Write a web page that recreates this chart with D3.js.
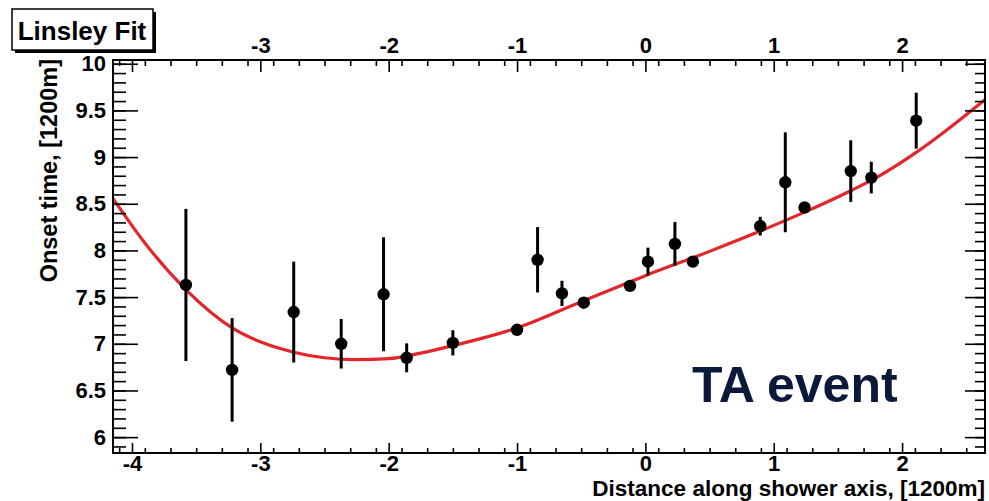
<!DOCTYPE html>
<html>
<head>
<meta charset="utf-8">
<script src="https://cdn.jsdelivr.net/npm/d3@7"></script>
<style>
body { margin:0; background:#fff; }
text { font-family:"Liberation Sans", Arial, sans-serif; font-weight:bold; }
</style>
</head>
<body>
<script>
// DATA

var point_x   = [-3.58,-3.22,-2.74,-2.37,-2.04,-1.86,-1.50,-1.00,-0.84,-0.65,-0.48,-0.12, 0.02, 0.23, 0.37, 0.895, 1.09, 1.24, 1.60, 1.76, 2.11];
var point_y   = [ 7.63, 6.72, 7.34, 7.00, 7.53, 6.85, 7.01, 7.15, 7.90, 7.54, 7.44, 7.62, 7.88, 8.07, 7.88, 8.26, 8.73, 8.46, 8.85, 8.78, 9.39];
var point_err = [ 0.815,0.555,0.54, 0.265,0.61, 0.155,0.135,0.04, 0.35, 0.135,0.04, 0.04, 0.15, 0.235,0.04, 0.10, 0.535,0.04, 0.33, 0.17, 0.30];

// linsley fit curve
var fit_x = [-4.15,-3.90,-3.58,-3.22,-2.98,-2.74,-2.50,-2.25,-2.00,-1.75,-1.50,-1.00,-0.50, 0.00, 0.50, 0.90, 1.24, 1.60, 1.76, 2.11, 2.30, 2.65];
var fit_y = [ 8.56, 8.08, 7.58, 7.17, 7.01, 6.91, 6.85, 6.83, 6.84, 6.90, 6.98, 7.17, 7.45, 7.73, 7.99, 8.21, 8.41, 8.64, 8.75, 9.05, 9.24, 9.62];

var x_major = [-4,-3,-2,-1,0,1,2];
var x_top_labels = [-3,-2,-1,0,1,2];
var y_major = [6,6.5,7,7.5,8,8.5,9,9.5,10];

var x_domain = [-4.148, 2.646];
var y_domain = [5.83, 10.04];

var title_text = "Linsley Fit";
var x_title = "Distance along shower axis, [1200m]";
var y_title = "Onset time, [1200m]";
var note_text = "TA event";

// FRAME SETUP

var width = 989, height = 501;
var frame = {"left":113, "right":985, "top":60, "bottom":453};

var svg = d3.select("body")
			.append("svg")
			.attr("width", width)
			.attr("height", height);

var x = d3.scaleLinear().domain(x_domain).range([frame.left, frame.right]);
var y = d3.scaleLinear().domain(y_domain).range([frame.bottom, frame.top]);

var x_minor = d3.range(-41, 27, 2).map(function(d){return d/10}).filter(function(d){return d>=x_domain[0] && d<=x_domain[1]});
var y_minor = d3.range(59, 101, 1).map(function(d){return d/10}).filter(function(d){return d>=y_domain[0] && d<=y_domain[1]});

svg.append("defs").append("clipPath")
	.attr("id","frame_clip")
	.append("rect")
	.attr("x",frame.left).attr("y",frame.top)
	.attr("width",frame.right-frame.left).attr("height",frame.bottom-frame.top);

// FIT CURVE
var fit_data = fit_x.map(function(d,i){return {"x":d,"y":fit_y[i]}});

svg.append("path")
	.datum(fit_data)
	.attr("clip-path","url(#frame_clip)")
	.attr("fill","none")
	.attr("stroke","#e3262a")
	.attr("stroke-width",3.2)
	.attr("d", d3.line()
				.x(function(d){return x(d.x)})
				.y(function(d){return y(d.y)})
				.curve(d3.curveMonotoneX));

// POINTS WITH ERROR BARS
var points = point_x.map(function(d,i){return {"x":d,"y":point_y[i],"e":point_err[i]}});

svg.selectAll("line.err")
	.data(points)
	.enter()
	.append("line")
	.attr("class","err")
	.attr("x1",function(d){return x(d.x)})
	.attr("x2",function(d){return x(d.x)})
	.attr("y1",function(d){return y(d.y-d.e)})
	.attr("y2",function(d){return y(d.y+d.e)})
	.attr("stroke","#000")
	.attr("stroke-width",3);

svg.selectAll("circle.pt")
	.data(points)
	.enter()
	.append("circle")
	.attr("class","pt")
	.attr("cx",function(d){return x(d.x)})
	.attr("cy",function(d){return y(d.y)})
	.attr("r",6.2)
	.attr("fill","#000");

// AXES
var style_axis = function(g, font_size)
{
	g.select(".domain").remove();
	g.selectAll(".tick line").attr("stroke","#000").attr("stroke-width",1.6);
	g.selectAll(".tick text").attr("font-size",font_size).attr("fill","#000")
		.style("font-family","'Liberation Sans', Arial, sans-serif").style("font-weight","bold");
}

var fmt = function(d){return String(d)};

// bottom
svg.append("g").attr("transform","translate(0,"+frame.bottom+")")
	.call(d3.axisBottom(x).tickValues(x_minor).tickSize(-5).tickFormat(""))
	.call(style_axis, 22);
svg.append("g").attr("transform","translate(0,"+frame.bottom+")")
	.call(d3.axisBottom(x).tickValues(x_major).tickSize(-10).tickPadding(2).tickFormat(fmt))
	.call(style_axis, 22);

// top
svg.append("g").attr("transform","translate(0,"+frame.top+")")
	.call(d3.axisTop(x).tickValues(x_minor).tickSize(-6).tickFormat(""))
	.call(style_axis, 22);
svg.append("g").attr("transform","translate(0,"+frame.top+")")
	.call(d3.axisTop(x).tickValues(x_major).tickSize(-12).tickFormat(""))
	.call(style_axis, 22);
svg.append("g").attr("transform","translate(0,"+frame.top+")")
	.call(d3.axisTop(x).tickValues(x_top_labels).tickSize(0).tickPadding(7).tickFormat(fmt))
	.call(style_axis, 22);

// left
svg.append("g").attr("transform","translate("+frame.left+",0)")
	.call(d3.axisLeft(y).tickValues(y_minor).tickSize(-13).tickFormat(""))
	.call(style_axis, 22);
svg.append("g").attr("transform","translate("+frame.left+",0)")
	.call(d3.axisLeft(y).tickValues(y_major).tickSize(-25).tickPadding(7).tickFormat(fmt))
	.call(style_axis, 22);

// right
svg.append("g").attr("transform","translate("+frame.right+",0)")
	.call(d3.axisRight(y).tickValues(y_minor).tickSize(-10).tickFormat(""))
	.call(style_axis, 22);
svg.append("g").attr("transform","translate("+frame.right+",0)")
	.call(d3.axisRight(y).tickValues(y_major).tickSize(-20).tickFormat(""))
	.call(style_axis, 22);

// frame border
svg.append("rect")
	.attr("x",frame.left).attr("y",frame.top)
	.attr("width",frame.right-frame.left).attr("height",frame.bottom-frame.top)
	.attr("fill","none")
	.attr("stroke","#000")
	.attr("stroke-width",2);

// AXIS TITLES
svg.append("text")
	.attr("transform","translate(57,"+(frame.top-1)+") rotate(-90)")
	.attr("text-anchor","end")
	.attr("font-size",23.5)
	.text(y_title);

svg.append("text")
	.attr("x",frame.right)
	.attr("y",496)
	.attr("text-anchor","end")
	.attr("font-size",22.5)
	.text(x_title);

// TITLE BOX (with the little shadow)
svg.append("rect").attr("x",15).attr("y",12).attr("width",141).attr("height",41).attr("fill","#000");
svg.append("rect").attr("x",12).attr("y",9).attr("width",141).attr("height",41)
	.attr("fill","#fff").attr("stroke","#000").attr("stroke-width",1.5);
svg.append("text")
	.attr("x",82).attr("y",40)
	.attr("text-anchor","middle")
	.attr("font-size",26)
	.text(title_text);

// NOTE
svg.append("text")
	.attr("x",692).attr("y",402)
	.attr("font-size",50)
	.attr("fill","#0b1a3b")
	.text(note_text);
</script>
</body>
</html>
